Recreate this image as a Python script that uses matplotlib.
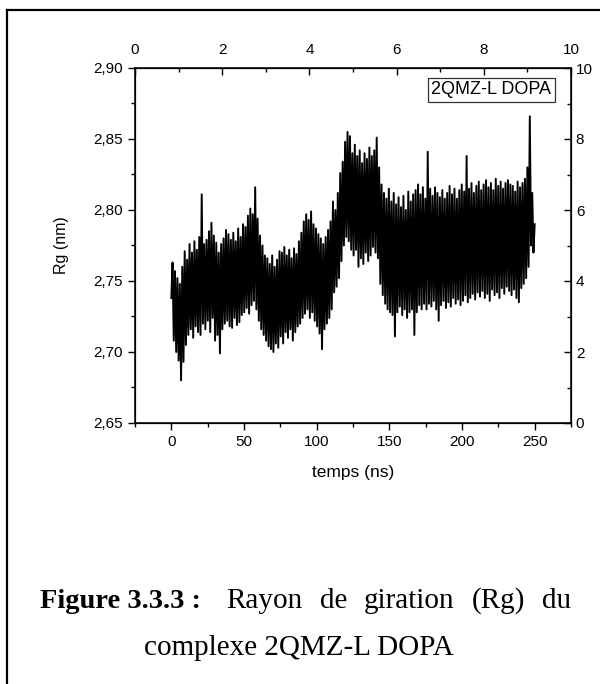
import numpy as np
import matplotlib.pyplot as plt
from matplotlib.lines import Line2D
from matplotlib.ticker import MultipleLocator, FuncFormatter

# Rg (nm), alternating upper / lower excursions of the band
rg = [
    2.738, 2.763, 2.708, 2.757, 2.700, 2.752, 2.694, 2.748, 2.680, 2.760,
    2.693, 2.771, 2.705, 2.765, 2.712, 2.776, 2.716, 2.770, 2.710, 2.778,
    2.718, 2.772, 2.714, 2.781, 2.712, 2.811, 2.720, 2.776, 2.716, 2.779,
    2.722, 2.785, 2.714, 2.791, 2.724, 2.782, 2.708, 2.777, 2.712, 2.770,
    2.699, 2.776, 2.716, 2.780, 2.720, 2.786, 2.722, 2.783, 2.718, 2.779,
    2.717, 2.784, 2.724, 2.778, 2.719, 2.787, 2.721, 2.781, 2.726, 2.790,
    2.728, 2.788, 2.731, 2.796, 2.727, 2.801, 2.733, 2.797, 2.736, 2.816,
    2.730, 2.794, 2.722, 2.782, 2.716, 2.775, 2.712, 2.768, 2.708, 2.766,
    2.704, 2.762, 2.702, 2.768, 2.700, 2.760, 2.706, 2.765, 2.703, 2.771,
    2.711, 2.770, 2.706, 2.774, 2.714, 2.768, 2.710, 2.772, 2.716, 2.766,
    2.708, 2.773, 2.714, 2.769, 2.718, 2.778, 2.720, 2.784, 2.724, 2.792,
    2.727, 2.797, 2.730, 2.793, 2.724, 2.799, 2.728, 2.790, 2.722, 2.787,
    2.718, 2.783, 2.713, 2.780, 2.702, 2.776, 2.716, 2.781, 2.720, 2.786,
    2.724, 2.792, 2.730, 2.806, 2.742, 2.800, 2.746, 2.812, 2.752, 2.826,
    2.764, 2.834, 2.775, 2.848, 2.781, 2.855, 2.778, 2.852, 2.772, 2.840,
    2.768, 2.846, 2.772, 2.838, 2.760, 2.842, 2.766, 2.833, 2.762, 2.840,
    2.770, 2.836, 2.764, 2.844, 2.768, 2.838, 2.774, 2.842, 2.770, 2.851,
    2.766, 2.830, 2.748, 2.818, 2.740, 2.812, 2.734, 2.808, 2.730, 2.815,
    2.728, 2.806, 2.726, 2.812, 2.711, 2.804, 2.728, 2.809, 2.732, 2.802,
    2.726, 2.810, 2.730, 2.800, 2.724, 2.813, 2.728, 2.806, 2.730, 2.811,
    2.712, 2.814, 2.728, 2.818, 2.733, 2.811, 2.730, 2.816, 2.734, 2.808,
    2.730, 2.841, 2.734, 2.815, 2.732, 2.810, 2.736, 2.816, 2.730, 2.812,
    2.722, 2.809, 2.733, 2.814, 2.736, 2.808, 2.731, 2.812, 2.735, 2.817,
    2.732, 2.811, 2.738, 2.815, 2.734, 2.808, 2.737, 2.814, 2.733, 2.818,
    2.736, 2.813, 2.740, 2.838, 2.735, 2.815, 2.738, 2.819, 2.741, 2.812,
    2.737, 2.817, 2.742, 2.820, 2.739, 2.814, 2.743, 2.818, 2.738, 2.821,
    2.741, 2.816, 2.736, 2.819, 2.744, 2.814, 2.740, 2.822, 2.742, 2.817,
    2.738, 2.820, 2.745, 2.815, 2.741, 2.819, 2.746, 2.821, 2.743, 2.818,
    2.740, 2.817, 2.744, 2.813, 2.738, 2.820, 2.735, 2.816, 2.745, 2.819,
    2.748, 2.822, 2.752, 2.830, 2.760, 2.866, 2.775, 2.812, 2.770, 2.790,
]
t_start, t_end = 0, 250
legend_label = "2QMZ-L DOPA"
caption_bold = "Figure 3.3.3 :"
caption_line1 = ["Rayon", "de", "giration", "(Rg)", "du"]
caption_line2 = "complexe 2QMZ-L DOPA"

plt.rcParams["font.family"] = ["Liberation Sans", "DejaVu Sans"]
W, H = 600, 684

fig = plt.figure(figsize=(W / 100, H / 100), dpi=100)
ax = fig.add_axes([135 / W, 1 - 423 / H, (571 - 135) / W, (423 - 68) / H])

t = np.linspace(t_start, t_end, len(rg))
ax.plot(t, rg, color="black", lw=1.4)

ax.set_xlim(-25, 275)
ax.set_ylim(2.65, 2.90)
ax.xaxis.set_major_locator(MultipleLocator(50))
ax.xaxis.set_minor_locator(MultipleLocator(25))
ax.yaxis.set_major_locator(MultipleLocator(0.05))
ax.yaxis.set_minor_locator(MultipleLocator(0.025))
ax.yaxis.set_major_formatter(FuncFormatter(lambda v, p: f"{v:.2f}".replace(".", ",")))
ax.tick_params(which="both", direction="out", labelsize=11, width=1.0)
ax.tick_params(which="major", length=5)
ax.tick_params(which="minor", length=3)
ax.set_xlabel("temps (ns)", fontsize=12.5, labelpad=12)
ax.set_ylabel("Rg (nm)", fontsize=11.5, labelpad=18)
for s in ax.spines.values():
    s.set_linewidth(1.1)

# top and right scales (0-10), ticks pointing inwards
ax_top = ax.twiny()
ax_top.set_xlim(0, 10)
ax_top.xaxis.set_major_locator(MultipleLocator(2))
ax_top.xaxis.set_minor_locator(MultipleLocator(1))
ax_top.tick_params(which="both", direction="in", labelsize=11, width=1.0, pad=8)
ax_top.tick_params(which="major", length=5)
ax_top.tick_params(which="minor", length=3)

ax_right = ax.twinx()
ax_right.set_ylim(0, 10)
ax_right.yaxis.set_major_locator(MultipleLocator(2))
ax_right.yaxis.set_minor_locator(MultipleLocator(1))
ax_right.tick_params(which="both", direction="in", labelsize=11, width=1.0)
ax_right.tick_params(which="major", length=5)
ax_right.tick_params(which="minor", length=3)

ax.text(0.955, 0.962, legend_label, transform=ax.transAxes, ha="right", va="top",
        fontsize=13, bbox=dict(boxstyle="square,pad=0.18", fc="white", ec="#333333", lw=0.9))

# page frame
fig.add_artist(Line2D([7 / W, 7 / W], [0, 1 - 10 / H], color="black", lw=1.6))
fig.add_artist(Line2D([7 / W, 1], [1 - 10 / H, 1 - 10 / H], color="black", lw=1.6))

# caption: bold label, then the rest of line 1 justified up to x=571 px
cap_size = 21
renderer = fig.canvas.get_renderer()
bold = fig.text(40 / W, 1 - 601 / H, caption_bold, family="Liberation Serif",
                fontweight="bold", fontsize=20.5, ha="left", va="center")
bold_w = bold.get_window_extent(renderer).width
words = [fig.text(0, 1 - 601 / H, w, family="Liberation Serif", fontsize=cap_size,
                  ha="left", va="center") for w in caption_line1]
widths = [w.get_window_extent(renderer).width for w in words]
x0, x1 = 40 + bold_w, 571
unit = (x1 - x0 - sum(widths)) / (len(words) - 1 + 1.5)
x = x0 + 1.5 * unit
for w, wd in zip(words, widths):
    w.set_x(x / W)
    x += wd + unit
fig.text(299 / W, 1 - 648 / H, caption_line2, family="Liberation Serif",
         fontsize=cap_size, ha="center", va="center")

fig.savefig("out.png", dpi=100)
